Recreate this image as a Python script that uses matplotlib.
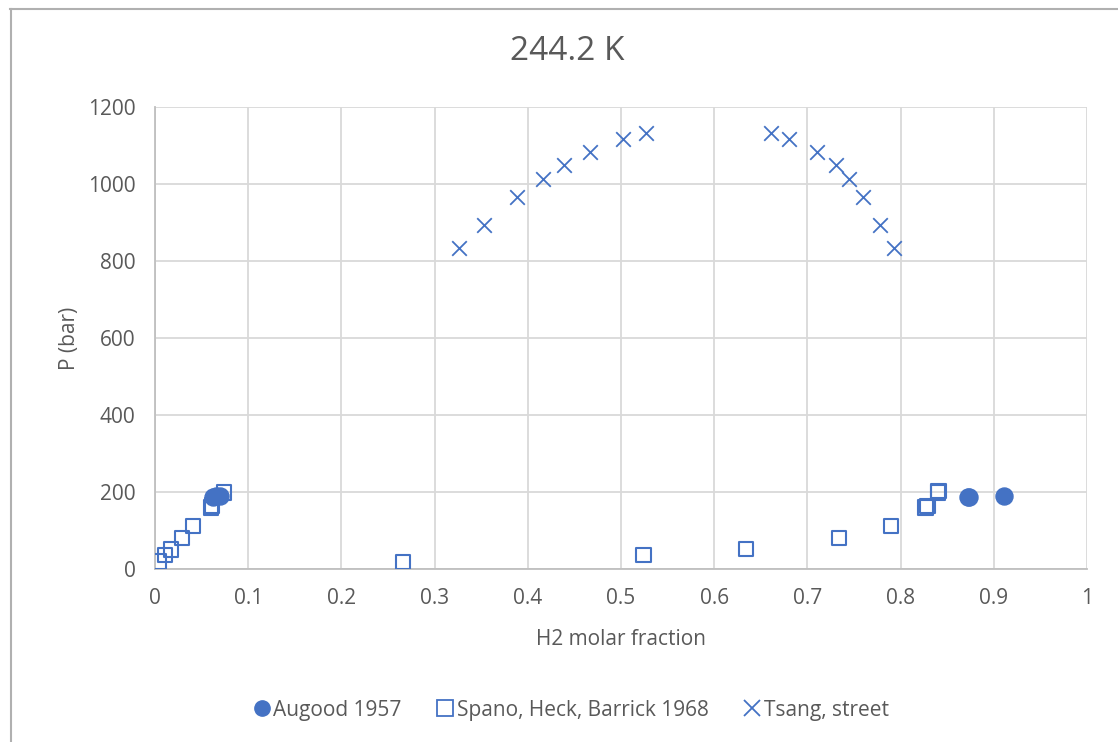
import matplotlib.pyplot as plt
from matplotlib.lines import Line2D

# Augood 1957
aug_x = [0.062, 0.066, 0.070, 0.872, 0.874, 0.911]
aug_p = [187, 189, 190, 186, 187, 190]

# Spano, Heck, Barrick 1968
spa_x = [0.004, 0.011, 0.017, 0.029, 0.041, 0.060, 0.061, 0.074,
         0.266, 0.524, 0.634, 0.734, 0.790, 0.827, 0.829, 0.840, 0.841]
spa_p = [19, 36, 51, 80, 112, 160, 165, 198,
         18, 36, 52, 80, 112, 160, 164, 198, 202]

# Tsang, street
tsa_x = [0.326, 0.353, 0.389, 0.416, 0.439, 0.467, 0.502, 0.527,
         0.661, 0.680, 0.710, 0.731, 0.745, 0.760, 0.778, 0.793]
tsa_p = [835, 894, 965, 1014, 1049, 1084, 1117, 1132,
         1132, 1117, 1084, 1049, 1014, 965, 894, 835]

blue = '#4472C4'
txt = '#595959'
plt.rcParams['font.family'] = ['Open Sans', 'DejaVu Sans']

fig = plt.figure(figsize=(11.18, 7.42), dpi=100)
ax = fig.add_axes([0.1386, 0.2332, 0.8336, 0.6226])

ax.scatter(spa_x, spa_p, marker='s', s=110, facecolors='none', edgecolors=blue,
           linewidths=1.5, zorder=3)
ax.scatter(aug_x, aug_p, marker='o', s=150, color=blue, zorder=4)
ax.scatter(tsa_x, tsa_p, marker='x', s=110, color=blue, linewidths=1.3, zorder=3)

ax.set_xlim(0, 1)
ax.set_ylim(0, 1200)
ax.set_xticks([i / 10 for i in range(11)])
ax.set_xticklabels(['0', '0.1', '0.2', '0.3', '0.4', '0.5', '0.6', '0.7', '0.8', '0.9', '1'])
ax.set_yticks(range(0, 1201, 200))
ax.grid(True, color='#d9d9d9', linewidth=1.3, zorder=0)
ax.set_axisbelow(True)
for s in ['top', 'right']:
    ax.spines[s].set_visible(False)
for s in ['left', 'bottom']:
    ax.spines[s].set_color('#bfbfbf')
    ax.spines[s].set_linewidth(1.3)
ax.tick_params(axis='y', length=0, labelsize=15, colors=txt, pad=14)
ax.tick_params(axis='x', length=0, labelsize=15, colors=txt, pad=14)

# title is centred on the whole chart area, as Excel does
fig.text(0.507, 0.93, '244.2 K', fontsize=24, color=txt, ha='center', va='center')
ax.set_xlabel('H2 molar fraction', fontsize=15, color=txt, labelpad=14)
ax.set_ylabel('P (bar)', fontsize=15, color=txt, labelpad=6)

handles = [
    Line2D([], [], marker='o', linestyle='none', color=blue, markersize=11),
    Line2D([], [], marker='s', linestyle='none', markerfacecolor='none',
           markeredgecolor=blue, markersize=11, markeredgewidth=1.3),
    Line2D([], [], marker='x', linestyle='none', color=blue, markersize=11,
           markeredgewidth=1.3),
]
leg = fig.legend(handles, ['Augood 1957', 'Spano, Heck, Barrick 1968', 'Tsang, street'],
                 loc='center', bbox_to_anchor=(0.510, 0.043), ncol=3, frameon=False,
                 fontsize=15, handletextpad=0.05, columnspacing=1.6, handlelength=1.0)
for t in leg.get_texts():
    t.set_color(txt)

# chart border lines (top and left)
fig.add_artist(Line2D([0.009, 1], [0.988, 0.988], color='#b0b0b0', linewidth=1.5))
fig.add_artist(Line2D([0.0095, 0.0095], [0, 0.988], color='#b0b0b0', linewidth=1.5))

fig.savefig('out.png', dpi=100)
